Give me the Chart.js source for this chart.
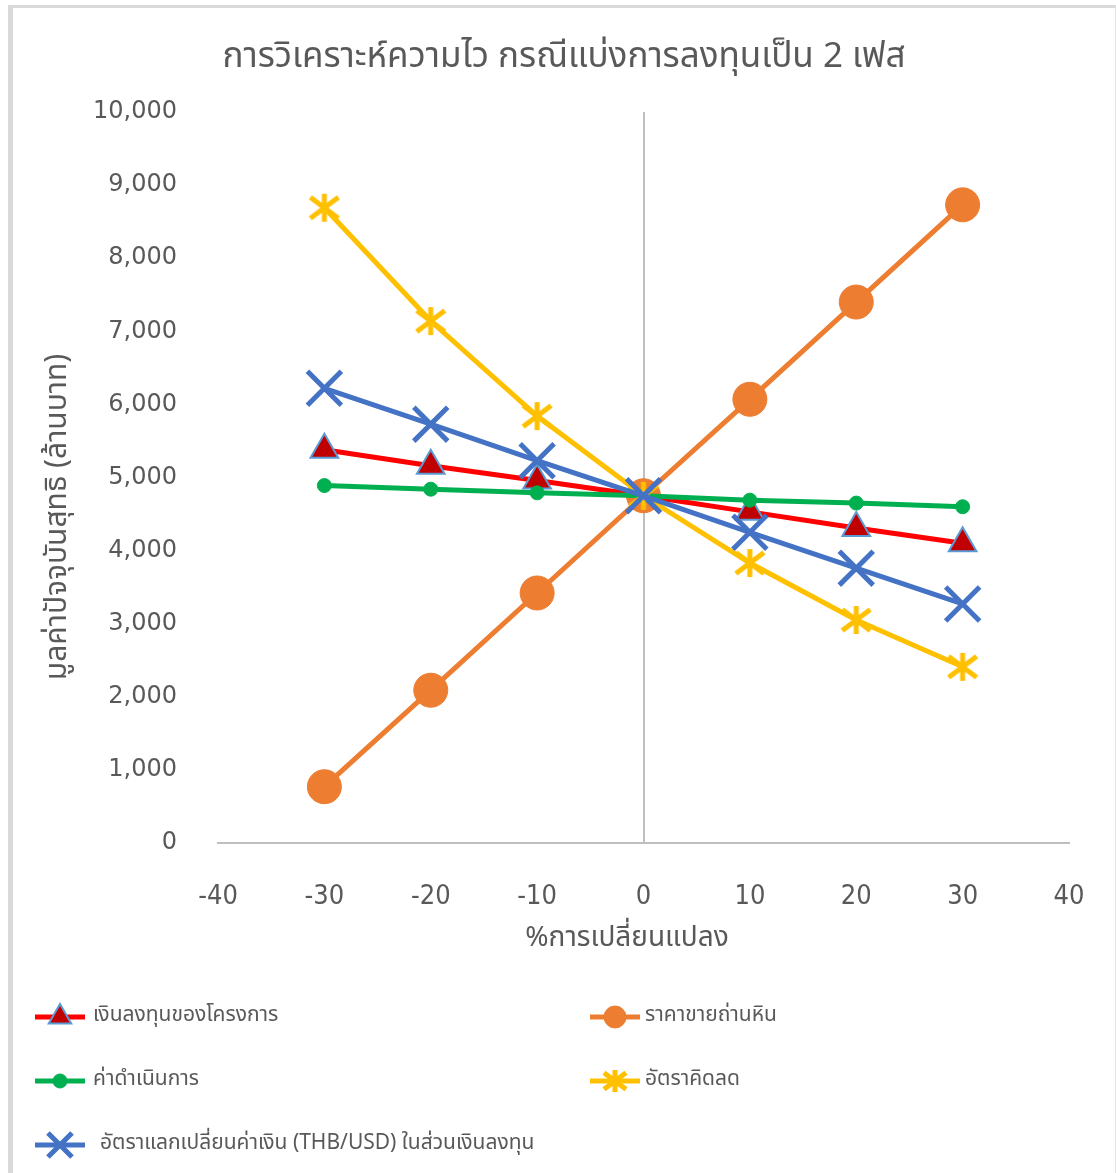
<!DOCTYPE html>
<html>
<head>
<meta charset="utf-8">
<script src="https://cdn.jsdelivr.net/npm/chart.js@4.4.1/dist/chart.umd.min.js"></script>
<style>
  body { margin: 0; background: #fff; overflow: hidden; }
  #wrap {
    position: absolute; left: 8px; top: 5px;
    width: 1102px; height: 1165px;
    border-left: 5px solid #d9d9d9; border-top: 3px solid #d9d9d9; border-right: 1px solid #e3e3e3;
  }
  canvas { display: block; }
</style>
</head>
<body>
<div id="wrap"><canvas id="sensChart" width="1102" height="1165"></canvas></div>
<script>
var changes = [-30, -20, -10, 0, 10, 20, 30];
var investCost = [5380, 5160, 4960, 4750, 4530, 4310, 4100];
var coalPrice = [770, 2090, 3420, 4750, 6070, 7400, 8730];
var operatingCost = [4890, 4840, 4790, 4750, 4690, 4650, 4600];
var discountRate = [8690, 7140, 5840, 4750, 3830, 3050, 2410];
var exchangeRate = [6220, 5730, 5230, 4750, 4250, 3760, 3270];
var xTicks = [-40, -30, -20, -10, 0, 10, 20, 30, 40];

var chartTitle = 'การวิเคราะห์ความไว กรณีแบ่งการลงทุนเป็น 2 เฟส';
var xTitle = '%การเปลี่ยนแปลง';
var yTitle = 'มูลค่าปัจจุบันสุทธิ (ล้านบาท)';

var textColor = '#595959';
var thaiFont = "'Noto Sans Thai', 'Tahoma', 'DejaVu Sans', sans-serif";

function toPoints(values) {
    return values.map(function(v, i) { return { x: changes[i], y: v }; });
}

// asterisk marker: vertical bar plus an X
function makeStar(color, size, lw) {
    var c = document.createElement('canvas');
    c.width = size;
    c.height = size;
    var g = c.getContext('2d');
    var m = size / 2, a = size / 2 - 2;
    g.strokeStyle = color;
    g.lineWidth = lw;
    g.beginPath();
    g.moveTo(m, m - a); g.lineTo(m, m + a);
    g.moveTo(m - a, m - a * 0.75); g.lineTo(m + a, m + a * 0.75);
    g.moveTo(m - a, m + a * 0.75); g.lineTo(m + a, m - a * 0.75);
    g.stroke();
    return c;
}

var yellowStar = makeStar('#FFC000', 32, 5);
var yellowStarSmall = makeStar('#FFC000', 26, 5);

var datasets = [{
    label: 'เงินลงทุนของโครงการ',
    data: toPoints(investCost),
    borderColor: '#FF0000',
    borderWidth: 5,
    pointStyle: 'triangle',
    pointRadius: 16,
    pointBackgroundColor: '#C00000',
    pointBorderColor: '#5B9BD5',
    pointBorderWidth: 2,
    legendRadius: 13,
    order: 5
}, {
    label: 'ราคาขายถ่านหิน',
    data: toPoints(coalPrice),
    borderColor: '#ED7D31',
    borderWidth: 5,
    pointStyle: 'circle',
    pointRadius: 17,
    pointBackgroundColor: '#ED7D31',
    pointBorderColor: '#ED7D31',
    pointBorderWidth: 1,
    legendRadius: 11,
    order: 4
}, {
    label: 'ค่าดำเนินการ',
    data: toPoints(operatingCost),
    borderColor: '#00B050',
    borderWidth: 5,
    pointStyle: 'circle',
    pointRadius: 7,
    pointBackgroundColor: '#00B050',
    pointBorderColor: '#00B050',
    pointBorderWidth: 1,
    legendRadius: 7,
    order: 3
}, {
    label: 'อัตราคิดลด',
    data: toPoints(discountRate),
    borderColor: '#FFC000',
    borderWidth: 5,
    pointStyle: yellowStar,
    legendStyle: yellowStarSmall,
    pointRadius: 16,
    legendRadius: 13,
    order: 2
}, {
    label: 'อัตราแลกเปลี่ยนค่าเงิน (THB/USD) ในส่วนเงินลงทุน',
    data: toPoints(exchangeRate),
    borderColor: '#4472C4',
    borderWidth: 5,
    pointStyle: 'crossRot',
    pointRadius: 24,
    pointBorderColor: '#4472C4',
    pointBorderWidth: 5,
    legendRadius: 17,
    order: 1
}];

// legend slots: [x of marker, y, x of text]
var legendSlots = [
    [47, 1009, 80], [602, 1009, 632],
    [47, 1073, 80], [602, 1073, 632],
    [47, 1137, 87]
];

var extrasPlugin = {
    id: 'extras',
    afterDraw: function(chart) {
        var ctx = chart.ctx;
        ctx.save();
        ctx.fillStyle = textColor;
        ctx.textAlign = 'center';
        ctx.textBaseline = 'middle';
        // chart title
        ctx.font = '35px ' + thaiFont;
        ctx.fillText(chartTitle, chart.width / 2, 52);
        // x axis title
        ctx.font = '28px ' + thaiFont;
        ctx.fillText(xTitle, 614, 932);
        // y axis title
        ctx.font = '30px ' + thaiFont;
        ctx.translate(47, 509);
        ctx.rotate(-Math.PI / 2);
        ctx.fillText(yTitle, 0, 0);
        ctx.restore();

        chart.data.datasets.forEach(function(ds, i) {
            var s = legendSlots[i];
            ctx.save();
            ctx.strokeStyle = ds.borderColor;
            ctx.lineWidth = 5;
            ctx.beginPath();
            ctx.moveTo(s[0] - 25, s[1]);
            ctx.lineTo(s[0] + 25, s[1]);
            ctx.stroke();
            ctx.fillStyle = ds.pointBackgroundColor || ds.borderColor;
            ctx.strokeStyle = ds.pointBorderColor || ds.borderColor;
            ctx.lineWidth = ds.pointBorderWidth || 0;
            Chart.helpers.drawPoint(ctx, {
                pointStyle: ds.legendStyle || ds.pointStyle,
                radius: ds.legendRadius,
                borderWidth: ds.pointBorderWidth || 0,
                rotation: 0
            }, s[0], s[1]);
            ctx.fillStyle = textColor;
            ctx.font = '21px ' + thaiFont;
            ctx.textAlign = 'left';
            ctx.textBaseline = 'middle';
            ctx.fillText(ds.label, s[2], s[1]);
            ctx.restore();
        });
    }
};

var sensChart = new Chart(document.getElementById('sensChart'), {
    type: 'line',
    data: { datasets: datasets },
    plugins: [extrasPlugin],
    options: {
        responsive: false,
        animation: false,
        events: [],
        layout: { padding: { top: 104, left: 0, right: 46, bottom: 200 } },
        plugins: {
            legend: { display: false },
            tooltip: { enabled: false },
            title: { display: false }
        },
        scales: {
            x: {
                type: 'linear',
                min: -40,
                max: 40,
                afterBuildTicks: function(scale) {
                    scale.ticks = xTicks.map(function(v) { return { value: v }; });
                },
                afterFit: function(scale) {
                    scale.height = 130;
                    // tick padding would otherwise widen the right margin
                    scale.paddingLeft = 0;
                    scale.paddingRight = 0;
                },
                ticks: {
                    color: textColor,
                    padding: 38,
                    font: { family: "'Liberation Sans Narrow', 'DejaVu Sans Condensed', sans-serif", size: 27 }
                },
                grid: {
                    drawTicks: false,
                    color: function(c) { return c.tick && c.tick.value === 0 ? '#BFBFBF' : 'rgba(0,0,0,0)'; },
                    lineWidth: 2
                },
                border: { display: true, color: '#BFBFBF', width: 2 }
            },
            y: {
                min: 0,
                max: 10000,
                afterFit: function(scale) { scale.width = 205; },
                ticks: {
                    stepSize: 1000,
                    color: textColor,
                    padding: 41,
                    font: { family: "'DejaVu Sans', sans-serif", size: 24 },
                    callback: function(v) { return v.toLocaleString('en-US'); }
                },
                grid: { display: false, drawTicks: false },
                border: { display: false }
            }
        }
    }
});
</script>
</body>
</html>
